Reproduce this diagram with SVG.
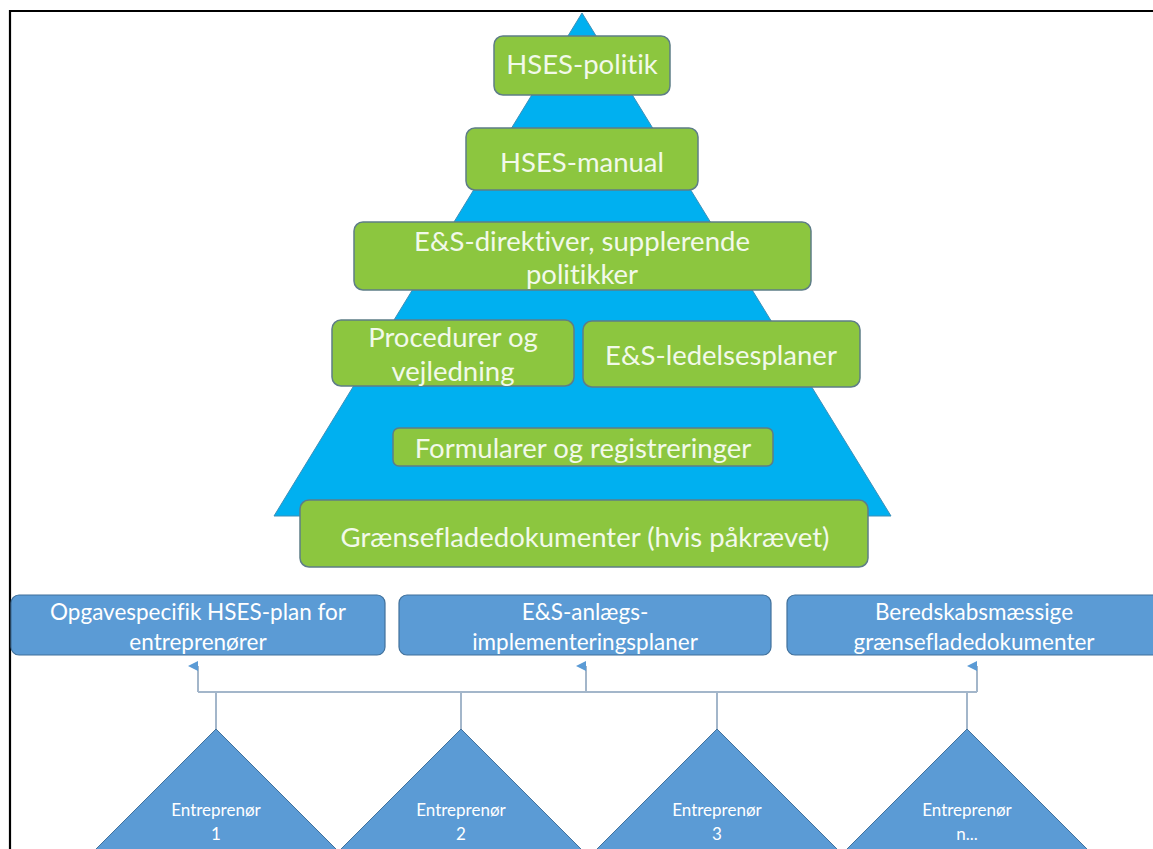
<svg xmlns="http://www.w3.org/2000/svg" width="1153" height="849" viewBox="0 0 1153 849">
<defs>
<style>
text{font-variant-ligatures:none;font-feature-settings:"liga" 0,"clig" 0}
.g rect{fill:#8cc63f;stroke:#5e7d87;stroke-width:1.5}
.g text{fill:#f2f9ea;font-family:Lato,"Open Sans",sans-serif;font-size:27.5px;text-anchor:middle;dominant-baseline:central}
.b rect{fill:#5b9bd5;stroke:#41719c;stroke-width:1.2}
.b text{fill:#ffffff;font-family:Lato,"Open Sans",sans-serif;font-size:22.5px;text-anchor:middle;dominant-baseline:central}
.t polygon{fill:#5b9bd5;stroke:#41719c;stroke-width:1}
.t text{fill:#ffffff;font-family:Lato,"Open Sans",sans-serif;font-size:17px;text-anchor:middle;dominant-baseline:central}
.c path{fill:none;stroke:#a3b6ca;stroke-width:2}
</style>
<marker id="arr" viewBox="0 0 10 10" refX="5" refY="10" markerWidth="10" markerHeight="10" markerUnits="userSpaceOnUse" orient="auto-start-reverse">
<path d="M0,10 L5,0 L10,10 Z" fill="#5b9bd5"/>
</marker>
</defs>
<rect width="1153" height="849" fill="#ffffff"/>
<path d="M10,849 V11 H1153" fill="none" stroke="#000" stroke-width="2.2"/>
<g id="pyramid">
<polygon points="582,13 891,516 274,516" fill="#00b0f0" stroke="#3d8fb8" stroke-width="1"/>
</g>
<g id="n-politik" class="g"><rect x="494" y="36" width="176" height="59" rx="9"/><text x="582" y="63">HSES-politik</text></g>
<g id="n-manual" class="g"><rect x="466" y="128" width="232" height="62" rx="9"/><text x="582" y="161">HSES-manual</text></g>
<g id="n-direktiver" class="g"><rect x="354" y="222" width="457" height="68" rx="9"/><text x="582" y="240">E&amp;S-direktiver, supplerende</text><text x="582" y="273">politikker</text></g>
<g id="n-procedurer" class="g"><rect x="332" y="320" width="242" height="66" rx="9"/><text x="453" y="336">Procedurer og</text><text x="453" y="370">vejledning</text></g>
<g id="n-ledelse" class="g"><rect x="583" y="321" width="277" height="66" rx="9"/><text x="721" y="354">E&amp;S-ledelsesplaner</text></g>
<g id="n-formularer" class="g"><rect x="393" y="428" width="380" height="38" rx="6"/><text x="583" y="447">Formularer og registreringer</text></g>
<g id="n-graense" class="g"><rect x="300" y="500" width="568" height="67" rx="9"/><text x="585" y="536">Grænsefladedokumenter (hvis påkrævet)</text></g>
<g id="b-opgave" class="b"><rect x="11" y="595" width="374" height="60" rx="8"/><text x="198" y="611">Opgavespecifik HSES-plan for</text><text x="198" y="641">entreprenører</text></g>
<g id="b-anlaeg" class="b"><rect x="399" y="595" width="372" height="60" rx="8"/><text x="585" y="611">E&amp;S-anlægs-</text><text x="585" y="641">implementeringsplaner</text></g>
<g id="b-beredskab" class="b"><rect x="787" y="595" width="374" height="60" rx="8"/><text x="974" y="611">Beredskabsmæssige</text><text x="974" y="641">grænsefladedokumenter</text></g>
<g id="connectors" class="c">
<path d="M198,692 H977"/>
<path d="M198,692 V666" marker-end="url(#arr)"/>
<path d="M586,692 V666" marker-end="url(#arr)"/>
<path d="M977,692 V666" marker-end="url(#arr)"/>
<path d="M216,729 V692"/>
<path d="M461,729 V692"/>
<path d="M717,729 V692"/>
<path d="M967,729 V692"/>
</g>
<g id="e1" class="t"><polygon points="216,729 356,869 76,869"/><text x="216" y="809">Entreprenør</text><text x="216" y="833">1</text></g>
<g id="e2" class="t"><polygon points="461,729 601,869 321,869"/><text x="461" y="809">Entreprenør</text><text x="461" y="833">2</text></g>
<g id="e3" class="t"><polygon points="717,729 857,869 577,869"/><text x="717" y="809">Entreprenør</text><text x="717" y="833">3</text></g>
<g id="e4" class="t"><polygon points="967,729 1107,869 827,869"/><text x="967" y="809">Entreprenør</text><text x="967" y="833">n...</text></g>
</svg>
